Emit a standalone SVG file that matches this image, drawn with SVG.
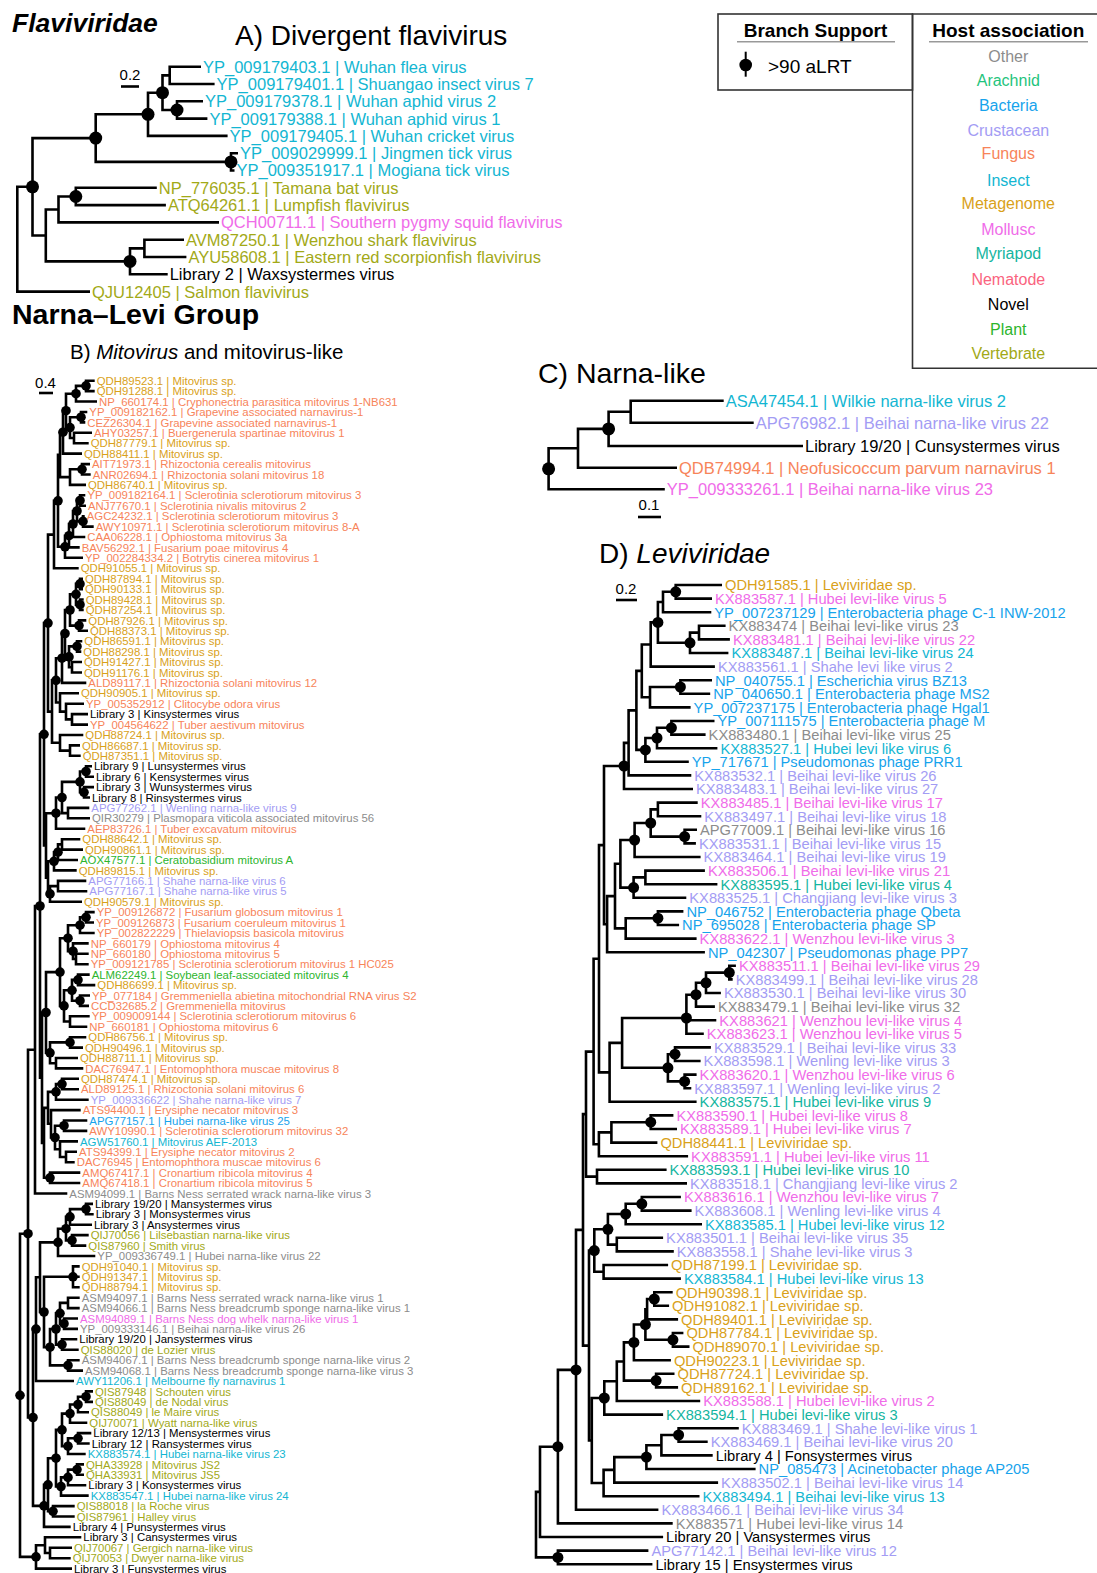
<svg xmlns="http://www.w3.org/2000/svg" xmlns:xlink="http://www.w3.org/1999/xlink" width="1097" height="1573" viewBox="0 0 1097 1573">
<style>
text{font-family:"Liberation Sans",Arial,Helvetica,sans-serif;}
.ta text{font-size:16.5px}
.tb text{font-size:11.4px}
.tc text{font-size:16.5px}
.td text{font-size:14.7px}
.br{fill:none;stroke:#000;stroke-width:2.6;stroke-linejoin:miter}
.bb{fill:none;stroke:#000;stroke-width:2.6}
.oth{fill:#8c8c8c}.ara{fill:#1fc47d}.bac{fill:#17a3ec}.cru{fill:#a39cf4}.fun{fill:#f7845a}.ins{fill:#13b6d2}.met{fill:#d9a11a}.mol{fill:#f06ce9}.myr{fill:#14b5a0}.nem{fill:#fa6480}.nov{fill:#000}.pla{fill:#2db52d}.ver{fill:#a2a917}
.ttl{font-size:28px;fill:#000}
.scale{font-size:15px;fill:#000;text-anchor:middle}
.leg{font-size:16px;text-anchor:middle}
</style>
<defs>
<circle id="dA" r="6.5" fill="#000"/>
<circle id="dB" r="4.8" fill="#000"/>
<circle id="dD" r="5.5" fill="#000"/>
</defs>
<rect width="1097" height="1573" fill="#fff"/>

<!-- titles -->
<g id="titles">
<text x="12" y="32" style="font-size:26.5px;font-weight:bold;font-style:italic">Flaviviridae</text>
<text x="235" y="45" class="ttl">A) Divergent flavivirus</text>
<text x="12" y="324" style="font-size:28.5px;font-weight:bold">Narna–Levi Group</text>
<text x="70" y="359" style="font-size:20.5px">B) <tspan font-style="italic">Mitovirus</tspan> and mitovirus-like</text>
<text x="538" y="383" style="font-size:28.5px">C) Narna-like</text>
<text x="599" y="563" style="font-size:28px">D) <tspan font-style="italic">Leviviridae</tspan></text>
</g>

<!-- legend -->
<g id="legend-support">
<rect x="718" y="14" width="194.5" height="76" fill="none" stroke="#333" stroke-width="1.6"/>
<text x="815.5" y="36.5" style="font-size:19px;font-weight:bold;text-anchor:middle">Branch Support</text>
<path d="M737 41.8 H895" stroke="#999" stroke-width="1.5"/>
<path d="M745.7 51.7 V76.7" stroke="#000" stroke-width="2"/>
<circle cx="745.7" cy="65" r="6.3" fill="#000"/>
<text x="768" y="73.3" style="font-size:19px">&gt;90 aLRT</text>
</g>
<g id="legend-host">
<path d="M1100 14 H912.5 V368.3 H1100" fill="none" stroke="#333" stroke-width="1.6"/>
<text x="1008.3" y="37.3" style="font-size:19px;font-weight:bold;text-anchor:middle">Host association</text>
<path d="M929 41.8 H1088" stroke="#999" stroke-width="1.5"/>
<text x="1008.3" y="61.8" class="leg oth">Other</text>
<text x="1008.3" y="85.8" class="leg ara">Arachnid</text>
<text x="1008.3" y="111.1" class="leg bac">Bacteria</text>
<text x="1008.3" y="135.8" class="leg cru">Crustacean</text>
<text x="1008.3" y="159.1" class="leg fun">Fungus</text>
<text x="1008.3" y="185.8" class="leg ins">Insect</text>
<text x="1008.3" y="209.1" class="leg met">Metagenome</text>
<text x="1008.3" y="235.1" class="leg mol">Mollusc</text>
<text x="1008.3" y="258.5" class="leg myr">Myriapod</text>
<text x="1008.3" y="284.5" class="leg nem">Nematode</text>
<text x="1008.3" y="309.8" class="leg nov">Novel</text>
<text x="1008.3" y="334.5" class="leg pla">Plant</text>
<text x="1008.3" y="359.1" class="leg ver">Vertebrate</text>
</g>

<!-- scale bars -->
<g id="scales">
<text x="130" y="80" class="scale">0.2</text><path d="M121 86.5 H139" class="bb"/>
<text x="45.5" y="388" class="scale">0.4</text><path d="M39 393 H53" class="bb"/>
<text x="649" y="510" class="scale">0.1</text><path d="M638 517 H661" class="bb"/>
<text x="626" y="594" class="scale">0.2</text><path d="M616 600 H637" class="bb"/>
</g>

<g id="connectors">
<!-- Panel A -->
<path class="br" d="M201 66.7 H169.7 V84 H214.6 M203 101.3 H177 V118.6 H207.4 M169.7 75.4 H162.5 V110 H177 M162.5 92.7 H148 V135.9 H227.6 M238 153.2 H231 V170.5 H234.5 M148 114.3 H95.7 V161.9 H231 M156.8 187.8 H75.8 V205.1 H165.9 M75.8 196.5 H58.5 V222.4 H219 M184 239.7 H144.4 V257 H186.4 M144.4 248.4 H130 V274.3 H167.7 M58.5 209.5 H45.8 V261.4 H130 M95.7 138.1 H32.5 V235.5 H45.8 M32.5 186.8 H17.3 V291.6 H90"/>
<!-- Panel C -->
<path class="br" d="M723.7 400.7 H630.7 V422.7 H753.7 M630.7 411.7 H608.6 V446 H803 M608.6 428.9 H578 V467.7 H677 M578 448.3 H548.6 V489.3 H664.8"/>
<!-- Panel B -->
<path class="br" d="M94.7 380.7 H86 V391.1 H94.7 M86 385.9 H76 V401.5 H97 M87.3 412 H81 V422.4 H85.3 M92 432.8 H74 V443.2 H88.7 M81 417.2 H70 V438 H74 M76 393.7 H66 V427.6 H70 M66 410.7 H63 V453.6 H82 M90 464.1 H82 V474.5 H90.7 M82 469.3 H70 V484.9 H86 M63 432.2 H60 V477.1 H70 M85.3 495.3 H80 V505.7 H86 M84.7 516.2 H83 V526.6 H93.7 M80 500.5 H77 V521.4 H83 M77 511 H73 V537 H85.3 M73 524 H69 V547.4 H79.7 M69 535.7 H65 V557.8 H83 M60 454.7 H58 V546.8 H65 M58 500.8 H54 V568.3 H78.7"/>
<path class="br" d="M83 578.7 H80 V589.1 H83 M83.7 599.5 H80 V609.9 H83.7 M80 583.9 H76 V604.7 H80 M86.3 620.4 H79 V630.8 H88 M76 594.3 H70 V625.6 H79 M82.3 641.2 H77 V651.6 H81.3 M82 662 H72 V672.5 H82 M77 646.4 H69 V667.3 H72 M70 610 H65 V656.9 H69 M65 633.5 H62 V682.9 H86.3 M88 714.1 H72 V724.6 H88 M84 703.7 H66 V719.4 H72 M79 693.3 H60 V711.6 H66 M62 658.2 H56 V702.5 H60 M80 745.4 H70 V755.8 H80.7 M83.3 735 H60 V750.6 H70 M56 680.4 H52 V742.8 H60 M54 534.6 H48 V711.6 H52"/>
<path class="br" d="M92 766.2 H86 V776.7 H94 M94 787.1 H84 V797.5 H90 M86 771.5 H80 V792.3 H84 M89.3 807.9 H68 V818.3 H90 M80 781.9 H62 V813.1 H68 M62 797.5 H56 V828.8 H85.3 M80.3 839.2 H62 V849.6 H83 M62 844.4 H58 V860 H78 M58 852.2 H54 V870.4 H76.7 M86.3 880.9 H58 V891.3 H87.3 M58 886.1 H50 V901.7 H82 M54 861.3 H48 V893.9 H50 M56 813.2 H46 V877.6 H48 M48 623.1 H44 V845.4 H46"/>
<path class="br" d="M94.7 912.1 H86 V922.5 H94 M86 917.3 H80 V933 H94.7 M88.7 953.8 H76 V964.2 H88.7 M88.7 943.4 H73 V959 H76 M80 925.2 H68 V951.2 H73 M89.7 974.6 H78 V985.1 H95.3 M90 995.5 H80 V1005.9 H89 M78 979.9 H72 V1000.7 H80 M89.7 1016.3 H70 V1026.7 H87.3 M72 990.3 H64 V1021.5 H70 M68 938.2 H60 V1005.9 H64 M86.3 1037.2 H70 V1047.6 H83 M78 1058 H56 V1068.4 H83.3 M70 1042.4 H50 V1063.2 H56 M60 972.1 H46 V1052.8 H50 M79 1078.8 H62 V1089.3 H79 M62 1084.1 H56 V1099.7 H88.7 M87.3 1120.5 H64 V1130.9 H87.3 M77 1151.8 H66 V1162.2 H74.7 M78 1141.4 H60 V1157 H66 M64 1125.7 H55 V1149.2 H60 M80.7 1110.1 H51 V1137.5 H55 M56 1091.9 H48 V1123.8 H51 M80.3 1172.6 H50 V1183 H80.3 M48 1107.9 H44 V1177.8 H50 M46 1012.5 H42 V1142.9 H44 M44 734.3 H40 V1077.7 H42 M40 906 H35 V1193.5 H67.3"/>
<path class="br" d="M93 1203.9 H86 V1214.3 H93.7 M86 1209.1 H70 V1224.7 H92 M88.7 1235.1 H72 V1245.6 H86.3 M70 1216.9 H66 V1240.4 H72 M66 1228.7 H58 V1256 H95.3 M79.7 1266.4 H73 V1287.2 H79.7 M73 1276.8 H79.7 M79.7 1297.7 H68 V1308.1 H79.7 M78 1318.5 H64 V1328.9 H78 M68 1302.9 H60 V1323.7 H64 M77.3 1339.3 H62 V1349.8 H78.7 M60 1313.3 H56 V1344.6 H62 M79.7 1360.2 H68 V1370.6 H83 M56 1329 H50 V1365.4 H68 M73 1276.8 H44 V1347.2 H50 M58 1242.4 H40 V1312 H44 M40 1277.2 H36 V1381 H74"/>
<path class="br" d="M93 1391.4 H86 V1401.9 H93 M86 1396.7 H78 V1412.3 H89 M78 1404.5 H70 V1422.7 H87.3 M91.3 1433.1 H78 V1443.5 H89.7 M78 1438.3 H68 V1454 H85.7 M70 1413.6 H62 V1446.2 H68 M84 1464.4 H77 V1474.8 H84 M77 1469.6 H68 V1485.2 H86.3 M68 1477.4 H61 V1495.6 H88.7 M62 1429.9 H56 V1486.5 H61 M74.7 1506.1 H53 V1516.5 H74.7 M56 1458.2 H48 V1511.3 H53 M48 1484.8 H44 V1526.9 H70.7 M36 1329.1 H33 V1505.9 H44 M35 1049.8 H28 V1417.5 H33 M72 1547.7 H50 V1558.2 H70.7 M81.3 1537.3 H45 V1553 H50 M45 1545.2 H36 V1568.6 H72 M28 1233.7 H20 V1556.9 H36"/>
<!-- Panel D -->
<path class="br" d="M722 585 H675.7 V598.6 H712 M675.7 591.8 H663 V612.2 H711.3 M725.6 625.8 H699 V639.4 H729.9 M699 632.6 H690 V653 H728.4 M663 602 H657.9 V642.8 H690 M657.9 622.4 H650.7 V666.6 H714.9 M712 680.2 H680.4 V693.8 H710.2 M680.4 687 H650 V707.4 H690.6 M650.7 644.5 H641.8 V697.2 H650 M714.5 721 H671.4 V734.6 H705.6 M671.4 727.8 H657 V748.2 H717.4 M657 738 H645.4 V761.8 H688.8 M641.8 670.9 H636.4 V749.9 H645.4 M636.4 710.4 H628.6 V775.4 H691.3 M628.6 742.9 H624 V789 H693"/>
<path class="br" d="M697.7 802.6 H657.9 V816.2 H701.3 M697 829.8 H684.6 V843.4 H695.9 M657.9 809.4 H650.7 V836.6 H684.6 M650.7 823 H634.6 V857 H700.6 M704.9 870.6 H645.4 V884.2 H717.4 M645.4 877.4 H633.6 V897.8 H686.3 M634.6 840 H620.4 V887.6 H633.6 M683.4 911.4 H657.9 V925 H679.1 M657.9 918.2 H625.7 V938.6 H696.6 M620.4 863.8 H615 V928.4 H625.7 M615 896.1 H607.1 V952.2 H704.9 M624 766 H604 V924.2 H607.1"/>
<path class="br" d="M735.9 965.8 H729.3 V979.4 H732.7 M729.3 972.6 H706 V993 H720.9 M706 982.8 H696 V1006.6 H714.9 M696 994.7 H686.4 V1033.8 H703.8 M686.4 1020.2 H716.3 M710.9 1047.4 H675 V1061 H700.6 M696.6 1074.6 H684.6 V1088.2 H691.3 M675 1054.2 H667.9 V1081.4 H684.6 M686.4 1018 H622.1 V1067.8 H667.9 M622.1 1042.9 H609.6 V1101.8 H696.6 M604 845.1 H599 V1072.4 H609.6 M673.4 1115.4 H650.7 V1129 H677 M650.7 1122.2 H611.4 V1142.6 H657.4 M611.4 1132.4 H598.9 V1156.2 H688.1 M599 958.8 H593.6 V1144.3 H598.9 M666.6 1169.8 H597 V1183.4 H687 M593.6 1051.6 H586 V1176.6 H597"/>
<path class="br" d="M680.9 1197 H641.8 V1210.6 H691.6 M641.8 1203.8 H625.7 V1224.2 H702 M663.1 1237.8 H616.8 V1251.4 H673.8 M625.7 1214 H607.9 V1244.6 H616.8 M668.1 1265 H603.6 V1278.6 H680.9 M607.9 1229.3 H594.3 V1271.8 H603.6 M672.7 1292.2 H654.3 V1305.8 H669.1 M654.3 1299 H647.1 V1319.4 H678.1 M683.4 1333 H672.9 V1346.6 H689.5 M647.1 1309.2 H645.4 V1339.8 H672.9 M645.4 1324.5 H633.9 V1360.2 H670.9 M674.5 1373.8 H656.1 V1387.4 H678.1 M633.9 1342.4 H623.9 V1380.6 H656.1 M623.9 1361.5 H616.8 V1401 H700.2 M616.8 1381.3 H604.3 V1414.6 H663.1 M738.8 1428.2 H678.6 V1441.8 H707.7 M678.6 1435 H661.4 V1455.4 H712.7 M661.4 1445.2 H646.4 V1469 H755.6 M646.4 1457.1 H614.3 V1482.6 H718.1 M614.3 1469.9 H603.6 V1496.2 H699.5 M604.3 1398 H591.8 V1483 H603.6 M594.3 1250.6 H589 V1440.5 H591.8 M586 1114.1 H583 V1345.6 H589 M583 1229.9 H576 V1509.8 H658.4 M576 1369.9 H557.9 V1523.4 H672.7 M557.9 1446.7 H540 V1537 H663.1 M648.4 1550.6 H557.9 V1564.2 H652.4 M540 1491.9 H536 V1557.4 H557.9"/>
</g>

<g id="support">
<use href="#dA" x="177" y="110"/><use href="#dA" x="162.5" y="92.7"/><use href="#dA" x="148" y="114.3"/><use href="#dA" x="231" y="161.9"/><use href="#dA" x="95.7" y="138.1"/><use href="#dA" x="75.8" y="196.5"/><use href="#dA" x="130" y="261.4"/><use href="#dA" x="32.5" y="186.8"/>
<use href="#dA" x="608.6" y="428.9"/><use href="#dA" x="548.6" y="468.8"/>
<use href="#dB" x="86" y="385.9"/><use href="#dB" x="76" y="393.7"/><use href="#dB" x="81" y="417.2"/><use href="#dB" x="70" y="427.6"/><use href="#dB" x="66" y="410.7"/><use href="#dB" x="63" y="432.2"/><use href="#dB" x="82" y="469.3"/><use href="#dB" x="80" y="500.5"/><use href="#dB" x="83" y="521.4"/><use href="#dB" x="77" y="511"/><use href="#dB" x="73" y="524"/><use href="#dB" x="69" y="535.7"/><use href="#dB" x="65" y="546.8"/><use href="#dB" x="58" y="500.8"/>
<use href="#dB" x="80" y="583.9"/><use href="#dB" x="80" y="604.7"/><use href="#dB" x="76" y="594.3"/><use href="#dB" x="79" y="625.6"/><use href="#dB" x="70" y="610"/><use href="#dB" x="77" y="646.4"/><use href="#dB" x="69" y="656.9"/><use href="#dB" x="65" y="633.5"/><use href="#dB" x="62" y="658.2"/><use href="#dB" x="56" y="680.4"/><use href="#dB" x="48" y="623.1"/>
<use href="#dB" x="86" y="771.5"/><use href="#dB" x="84" y="792.3"/><use href="#dB" x="80" y="781.9"/><use href="#dB" x="62" y="797.5"/><use href="#dB" x="56" y="813.2"/><use href="#dB" x="58" y="852.2"/><use href="#dB" x="54" y="861.3"/><use href="#dB" x="50" y="893.9"/><use href="#dB" x="44" y="734.3"/>
<use href="#dB" x="86" y="917.3"/><use href="#dB" x="80" y="925.2"/><use href="#dB" x="73" y="951.2"/><use href="#dB" x="68" y="938.2"/><use href="#dB" x="78" y="979.9"/><use href="#dB" x="80" y="1000.7"/><use href="#dB" x="72" y="990.3"/><use href="#dB" x="64" y="1005.9"/><use href="#dB" x="60" y="972.1"/><use href="#dB" x="70" y="1042.4"/><use href="#dB" x="50" y="1052.8"/><use href="#dB" x="46" y="1012.5"/><use href="#dB" x="62" y="1084.1"/><use href="#dB" x="56" y="1091.9"/><use href="#dB" x="64" y="1125.7"/><use href="#dB" x="55" y="1137.5"/><use href="#dB" x="50" y="1177.8"/><use href="#dB" x="40" y="906"/>
<use href="#dB" x="86" y="1209.1"/><use href="#dB" x="70" y="1216.9"/><use href="#dB" x="72" y="1240.4"/><use href="#dB" x="66" y="1228.7"/><use href="#dB" x="58" y="1242.4"/><use href="#dB" x="73" y="1276.8"/><use href="#dB" x="64" y="1323.7"/><use href="#dB" x="60" y="1313.3"/><use href="#dB" x="62" y="1344.6"/><use href="#dB" x="56" y="1329"/><use href="#dB" x="68" y="1365.4"/><use href="#dB" x="50" y="1347.2"/><use href="#dB" x="44" y="1312"/><use href="#dB" x="36" y="1329.1"/>
<use href="#dB" x="86" y="1396.7"/><use href="#dB" x="78" y="1404.5"/><use href="#dB" x="70" y="1413.6"/><use href="#dB" x="78" y="1438.3"/><use href="#dB" x="68" y="1446.2"/><use href="#dB" x="62" y="1429.9"/><use href="#dB" x="77" y="1469.6"/><use href="#dB" x="68" y="1477.4"/><use href="#dB" x="61" y="1486.5"/><use href="#dB" x="56" y="1458.2"/><use href="#dB" x="53" y="1511.3"/><use href="#dB" x="48" y="1484.8"/><use href="#dB" x="44" y="1505.9"/><use href="#dB" x="33" y="1417.5"/><use href="#dB" x="28" y="1233.7"/><use href="#dB" x="36" y="1556.9"/><use href="#dB" x="20" y="1395.3"/>
<use href="#dD" x="675.7" y="591.8"/><use href="#dD" x="657.9" y="622.4"/><use href="#dD" x="690" y="642.8"/><use href="#dD" x="680.4" y="687"/><use href="#dD" x="671.4" y="727.8"/><use href="#dD" x="657" y="738"/><use href="#dD" x="645.4" y="749.9"/><use href="#dD" x="624" y="766"/><use href="#dD" x="684.6" y="836.6"/><use href="#dD" x="650.7" y="823"/><use href="#dD" x="634.6" y="840"/><use href="#dD" x="633.6" y="887.6"/><use href="#dD" x="657.9" y="918.2"/><use href="#dD" x="729.3" y="972.6"/><use href="#dD" x="706" y="982.8"/><use href="#dD" x="696" y="994.7"/><use href="#dD" x="686.4" y="1018"/><use href="#dD" x="675" y="1054.2"/><use href="#dD" x="684.6" y="1081.4"/><use href="#dD" x="667.9" y="1067.8"/><use href="#dD" x="650.7" y="1122.2"/><use href="#dD" x="641.8" y="1203.8"/><use href="#dD" x="625.7" y="1214"/><use href="#dD" x="607.9" y="1229.3"/><use href="#dD" x="594.3" y="1250.6"/><use href="#dD" x="654.3" y="1299"/><use href="#dD" x="672.9" y="1339.8"/><use href="#dD" x="645.4" y="1324.5"/><use href="#dD" x="633.9" y="1342.4"/><use href="#dD" x="656.1" y="1380.6"/><use href="#dD" x="604.3" y="1398"/><use href="#dD" x="678.6" y="1435"/><use href="#dD" x="646.4" y="1457.1"/><use href="#dD" x="576" y="1369.9"/><use href="#dD" x="557.9" y="1446.7"/><use href="#dD" x="557.9" y="1557.4"/>
</g>

<g id="panelA" class="ta">
<g id="a1"><text x="203" y="72.6" class="ins">YP_009179403.1 | Wuhan flea virus</text></g>
<g id="a2"><text x="216.6" y="89.9" class="ins">YP_009179401.1 | Shuangao insect virus 7</text></g>
<g id="a3"><text x="205" y="107.2" class="ins">YP_009179378.1 | Wuhan aphid virus 2</text></g>
<g id="a4"><text x="209.4" y="124.5" class="ins">YP_009179388.1 | Wuhan aphid virus 1</text></g>
<g id="a5"><text x="229.6" y="141.8" class="ins">YP_009179405.1 | Wuhan cricket virus</text></g>
<g id="a6"><text x="240" y="159.1" class="ins">YP_009029999.1 | Jingmen tick virus</text></g>
<g id="a7"><text x="236.5" y="176.4" class="ins">YP_009351917.1 | Mogiana tick virus</text></g>
<g id="a8"><text x="158.8" y="193.7" class="ver">NP_776035.1 | Tamana bat virus</text></g>
<g id="a9"><text x="167.9" y="211" class="ver">ATQ64261.1 | Lumpfish flavivirus</text></g>
<g id="a10"><text x="221" y="228.3" class="mol">QCH00711.1 | Southern pygmy squid flavivirus</text></g>
<g id="a11"><text x="186" y="245.6" class="ver">AVM87250.1 | Wenzhou shark flavivirus</text></g>
<g id="a12"><text x="188.4" y="262.9" class="ver">AYU58608.1 | Eastern red scorpionfish flavivirus</text></g>
<g id="a13"><text x="169.7" y="280.2" class="nov">Library 2 | Waxsystermes virus</text></g>
<g id="a14"><text x="92" y="297.5" class="ver">QJU12405 | Salmon flavivirus</text></g>
</g>

<g id="panelC" class="tc">
<g id="c1"><text x="725.7" y="406.6" class="ins">ASA47454.1 | Wilkie narna-like virus 2</text></g>
<g id="c2"><text x="755.7" y="428.6" class="cru">APG76982.1 | Beihai narna-like virus 22</text></g>
<g id="c3"><text x="805" y="451.9" class="nov">Library 19/20 | Cunsystermes virus</text></g>
<g id="c4"><text x="679" y="473.6" class="fun">QDB74994.1 | Neofusicoccum parvum narnavirus 1</text></g>
<g id="c5"><text x="666.8" y="495.2" class="mol">YP_009333261.1 | Beihai narna-like virus 23</text></g>
</g>

<g id="panelB" class="tb">
<g id="b1"><text x="96.7" y="384.8" class="met">QDH89523.1 | Mitovirus sp.</text></g>
<g id="b2"><text x="96.7" y="395.2" class="met">QDH91288.1 | Mitovirus sp.</text></g>
<g id="b3"><text x="99" y="405.6" class="fun">NP_660174.1 | Cryphonectria parasitica mitovirus 1-NB631</text></g>
<g id="b4"><text x="89.3" y="416.1" class="fun">YP_009182162.1 | Grapevine associated narnavirus-1</text></g>
<g id="b5"><text x="87.3" y="426.5" class="fun">CEZ26304.1 | Grapevine associated narnavirus-1</text></g>
<g id="b6"><text x="94" y="436.9" class="fun">AHY03257.1 | Buergenerula spartinae mitovirus 1</text></g>
<g id="b7"><text x="90.7" y="447.3" class="met">QDH87779.1 | Mitovirus sp.</text></g>
<g id="b8"><text x="84" y="457.7" class="met">QDH88411.1 | Mitovirus sp.</text></g>
<g id="b9"><text x="92" y="468.2" class="fun">AIT71973.1 | Rhizoctonia cerealis mitovirus</text></g>
<g id="b10"><text x="92.7" y="478.6" class="fun">ANR02694.1 | Rhizoctonia solani mitovirus 18</text></g>
<g id="b11"><text x="88" y="489" class="met">QDH86740.1 | Mitovirus sp.</text></g>
<g id="b12"><text x="87.3" y="499.4" class="fun">YP_009182164.1 | Sclerotinia sclerotiorum mitovirus 3</text></g>
<g id="b13"><text x="88" y="509.8" class="fun">ANJ77670.1 | Sclerotinia nivalis mitovirus 2</text></g>
<g id="b14"><text x="86.7" y="520.3" class="fun">AGC24232.1 | Sclerotinia sclerotiorum mitovirus 3</text></g>
<g id="b15"><text x="95.7" y="530.7" class="fun">AWY10971.1 | Sclerotinia sclerotiorum mitovirus 8-A</text></g>
<g id="b16"><text x="87.3" y="541.1" class="fun">CAA06228.1 | Ophiostoma mitovirus 3a</text></g>
<g id="b17"><text x="81.7" y="551.5" class="fun">BAV56292.1 | Fusarium poae mitovirus 4</text></g>
<g id="b18"><text x="85" y="561.9" class="fun">YP_002284334.2 | Botrytis cinerea mitovirus 1</text></g>
<g id="b19"><text x="80.7" y="572.4" class="met">QDH91055.1 | Mitovirus sp.</text></g>
<g id="b20"><text x="85" y="582.8" class="met">QDH87894.1 | Mitovirus sp.</text></g>
<g id="b21"><text x="85" y="593.2" class="met">QDH90133.1 | Mitovirus sp.</text></g>
<g id="b22"><text x="85.7" y="603.6" class="met">QDH89428.1 | Mitovirus sp.</text></g>
<g id="b23"><text x="85.7" y="614" class="met">QDH87254.1 | Mitovirus sp.</text></g>
<g id="b24"><text x="88.3" y="624.5" class="met">QDH87926.1 | Mitovirus sp.</text></g>
<g id="b25"><text x="90" y="634.9" class="met">QDH88373.1 | Mitovirus sp.</text></g>
<g id="b26"><text x="84.3" y="645.3" class="met">QDH86591.1 | Mitovirus sp.</text></g>
<g id="b27"><text x="83.3" y="655.7" class="met">QDH88298.1 | Mitovirus sp.</text></g>
<g id="b28"><text x="84" y="666.1" class="met">QDH91427.1 | Mitovirus sp.</text></g>
<g id="b29"><text x="84" y="676.6" class="met">QDH91176.1 | Mitovirus sp.</text></g>
<g id="b30"><text x="88.3" y="687" class="fun">ALD89117.1 | Rhizoctonia solani mitovirus 12</text></g>
<g id="b31"><text x="81" y="697.4" class="met">QDH90905.1 | Mitovirus sp.</text></g>
<g id="b32"><text x="86" y="707.8" class="fun">YP_005352912 | Clitocybe odora virus</text></g>
<g id="b33"><text x="90" y="718.2" class="nov">Library 3 | Kinsystermes virus</text></g>
<g id="b34"><text x="90" y="728.7" class="fun">YP_004564622 | Tuber aestivum mitovirus</text></g>
<g id="b35"><text x="85.3" y="739.1" class="met">QDH88724.1 | Mitovirus sp.</text></g>
<g id="b36"><text x="82" y="749.5" class="met">QDH86687.1 | Mitovirus sp.</text></g>
<g id="b37"><text x="82.7" y="759.9" class="met">QDH87351.1 | Mitovirus sp.</text></g>
<g id="b38"><text x="94" y="770.3" class="nov">Library 9 | Lunsystermes virus</text></g>
<g id="b39"><text x="96" y="780.8" class="nov">Library 6 | Kensystermes virus</text></g>
<g id="b40"><text x="96" y="791.2" class="nov">Library 3 | Wunsystermes virus</text></g>
<g id="b41"><text x="92" y="801.6" class="nov">Library 8 | Rinsystermes virus</text></g>
<g id="b42"><text x="91.3" y="812" class="cru">APG77262.1 | Wenling narna-like virus 9</text></g>
<g id="b43"><text x="92" y="822.4" class="oth">QIR30279 | Plasmopara viticola associated mitovirus 56</text></g>
<g id="b44"><text x="87.3" y="832.9" class="fun">AEP83726.1 | Tuber excavatum mitovirus</text></g>
<g id="b45"><text x="82.3" y="843.3" class="met">QDH88642.1 | Mitovirus sp.</text></g>
<g id="b46"><text x="85" y="853.7" class="met">QDH90861.1 | Mitovirus sp.</text></g>
<g id="b47"><text x="80" y="864.1" class="pla">AOX47577.1 | Ceratobasidium mitovirus A</text></g>
<g id="b48"><text x="78.7" y="874.5" class="met">QDH89815.1 | Mitovirus sp.</text></g>
<g id="b49"><text x="88.3" y="885" class="cru">APG77166.1 | Shahe narna-like virus 6</text></g>
<g id="b50"><text x="89.3" y="895.4" class="cru">APG77167.1 | Shahe narna-like virus 5</text></g>
<g id="b51"><text x="84" y="905.8" class="met">QDH90579.1 | Mitovirus sp.</text></g>
<g id="b52"><text x="96.7" y="916.2" class="fun">YP_009126872 | Fusarium globosum mitovirus 1</text></g>
<g id="b53"><text x="96" y="926.6" class="fun">YP_009126873 | Fusarium coeruleum mitovirus 1</text></g>
<g id="b54"><text x="96.7" y="937.1" class="fun">YP_002822229 | Thielaviopsis basicola mitovirus</text></g>
<g id="b55"><text x="90.7" y="947.5" class="fun">NP_660179 | Ophiostoma mitovirus 4</text></g>
<g id="b56"><text x="90.7" y="957.9" class="fun">NP_660180 | Ophiostoma mitovirus 5</text></g>
<g id="b57"><text x="90.7" y="968.3" class="fun">YP_009121785 | Sclerotinia sclerotiorum mitovirus 1 HC025</text></g>
<g id="b58"><text x="91.7" y="978.7" class="pla">ALM62249.1 | Soybean leaf-associated mitovirus 4</text></g>
<g id="b59"><text x="97.3" y="989.2" class="met">QDH86699.1 | Mitovirus sp.</text></g>
<g id="b60"><text x="92" y="999.6" class="fun">YP_077184 | Gremmeniella abietina mitochondrial RNA virus S2</text></g>
<g id="b61"><text x="91" y="1010" class="fun">CCD32685.2 | Gremmeniella mitovirus</text></g>
<g id="b62"><text x="91.7" y="1020.4" class="fun">YP_009009144 | Sclerotinia sclerotiorum mitovirus 6</text></g>
<g id="b63"><text x="89.3" y="1030.8" class="fun">NP_660181 | Ophiostoma mitovirus 6</text></g>
<g id="b64"><text x="88.3" y="1041.3" class="met">QDH86756.1 | Mitovirus sp.</text></g>
<g id="b65"><text x="85" y="1051.7" class="met">QDH90496.1 | Mitovirus sp.</text></g>
<g id="b66"><text x="80" y="1062.1" class="met">QDH88711.1 | Mitovirus sp.</text></g>
<g id="b67"><text x="85.3" y="1072.5" class="fun">DAC76947.1 | Entomophthora muscae mitovirus 8</text></g>
<g id="b68"><text x="81" y="1082.9" class="met">QDH87474.1 | Mitovirus sp.</text></g>
<g id="b69"><text x="81" y="1093.4" class="fun">ALD89125.1 | Rhizoctonia solani mitovirus 6</text></g>
<g id="b70"><text x="90.7" y="1103.8" class="cru">YP_009336622 | Shahe narna-like virus 7</text></g>
<g id="b71"><text x="82.7" y="1114.2" class="fun">ATS94400.1 | Erysiphe necator mitovirus 3</text></g>
<g id="b72"><text x="89.3" y="1124.6" class="bac">APG77157.1 | Hubei narna-like virus 25</text></g>
<g id="b73"><text x="89.3" y="1135" class="fun">AWY10990.1 | Sclerotinia sclerotiorum mitovirus 32</text></g>
<g id="b74"><text x="80" y="1145.5" class="ins">AGW51760.1 | Mitovirus AEF-2013</text></g>
<g id="b75"><text x="79" y="1155.9" class="fun">ATS94399.1 | Erysiphe necator mitovirus 2</text></g>
<g id="b76"><text x="76.7" y="1166.3" class="fun">DAC76945 | Entomophthora muscae mitovirus 6</text></g>
<g id="b77"><text x="82.3" y="1176.7" class="fun">AMQ67417.1 | Cronartium ribicola mitovirus 4</text></g>
<g id="b78"><text x="82.3" y="1187.1" class="fun">AMQ67418.1 | Cronartium ribicola mitovirus 5</text></g>
<g id="b79"><text x="69.3" y="1197.6" class="oth">ASM94099.1 | Barns Ness serrated wrack narna-like virus 3</text></g>
<g id="b80"><text x="95" y="1208" class="nov">Library 19/20 | Mansystermes virus</text></g>
<g id="b81"><text x="95.7" y="1218.4" class="nov">Library 3 | Monsystermes virus</text></g>
<g id="b82"><text x="94" y="1228.8" class="nov">Library 3 | Ansystermes virus</text></g>
<g id="b83"><text x="90.7" y="1239.2" class="ver">QIJ70056 | Lilsebastian narna-like virus</text></g>
<g id="b84"><text x="88.3" y="1249.7" class="ver">QIS87960 | Smith virus</text></g>
<g id="b85"><text x="97.3" y="1260.1" class="oth">YP_009336749.1 | Hubei narna-like virus 22</text></g>
<g id="b86"><text x="81.7" y="1270.5" class="met">QDH91040.1 | Mitovirus sp.</text></g>
<g id="b87"><text x="81.7" y="1280.9" class="met">QDH91347.1 | Mitovirus sp.</text></g>
<g id="b88"><text x="81.7" y="1291.3" class="met">QDH88794.1 | Mitovirus sp.</text></g>
<g id="b89"><text x="81.7" y="1301.8" class="oth">ASM94097.1 | Barns Ness serrated wrack narna-like virus 1</text></g>
<g id="b90"><text x="81.7" y="1312.2" class="oth">ASM94066.1 | Barns Ness breadcrumb sponge narna-like virus 1</text></g>
<g id="b91"><text x="80" y="1322.6" class="mol">ASM94089.1 | Barns Ness dog whelk narna-like virus 1</text></g>
<g id="b92"><text x="80" y="1333" class="oth">YP_009333146.1 | Beihai narna-like virus 26</text></g>
<g id="b93"><text x="79.3" y="1343.4" class="nov">Library 19/20 | Jansystermes virus</text></g>
<g id="b94"><text x="80.7" y="1353.9" class="ver">QIS88020 | de Lozier virus</text></g>
<g id="b95"><text x="81.7" y="1364.3" class="oth">ASM94067.1 | Barns Ness breadcrumb sponge narna-like virus 2</text></g>
<g id="b96"><text x="85" y="1374.7" class="oth">ASM94068.1 | Barns Ness breadcrumb sponge narna-like virus 3</text></g>
<g id="b97"><text x="76" y="1385.1" class="ins">AWY11206.1 | Melbourne fly narnavirus 1</text></g>
<g id="b98"><text x="95" y="1395.5" class="ver">QIS87948 | Schouten virus</text></g>
<g id="b99"><text x="95" y="1406" class="ver">QIS88049 | de Nodal virus</text></g>
<g id="b100"><text x="91" y="1416.4" class="ver">QIS88049 | le Maire virus</text></g>
<g id="b101"><text x="89.3" y="1426.8" class="ver">QIJ70071 | Wyatt narna-like virus</text></g>
<g id="b102"><text x="93.3" y="1437.2" class="nov">Library 12/13 | Mensystermes virus</text></g>
<g id="b103"><text x="91.7" y="1447.6" class="nov">Library 12 | Ransystermes virus</text></g>
<g id="b104"><text x="87.7" y="1458.1" class="ins">KX883574.1 | Hubei narna-like virus 23</text></g>
<g id="b105"><text x="86" y="1468.5" class="ver">QHA33928 | Mitovirus JS2</text></g>
<g id="b106"><text x="86" y="1478.9" class="ver">QHA33931 | Mitovirus JS5</text></g>
<g id="b107"><text x="88.3" y="1489.3" class="nov">Library 3 | Konsystermes virus</text></g>
<g id="b108"><text x="90.7" y="1499.7" class="ins">KX883547.1 | Hubei narna-like virus 24</text></g>
<g id="b109"><text x="76.7" y="1510.2" class="ver">QIS88018 | la Roche virus</text></g>
<g id="b110"><text x="76.7" y="1520.6" class="ver">QIS87961 | Halley virus</text></g>
<g id="b111"><text x="72.7" y="1531" class="nov">Library 4 | Punsystermes virus</text></g>
<g id="b112"><text x="83.3" y="1541.4" class="nov">Library 3 | Cansystermes virus</text></g>
<g id="b113"><text x="74" y="1551.8" class="ver">QIJ70067 | Gergich narna-like virus</text></g>
<g id="b114"><text x="72.7" y="1562.3" class="ver">QIJ70053 | Dwyer narna-like virus</text></g>
<g id="b115"><text x="74" y="1572.7" class="nov">Library 3 | Funsystermes virus</text></g>
</g>

<g id="panelD" class="td">
<g id="d1"><text x="725" y="590.3" class="met">QDH91585.1 | Leviviridae sp.</text></g>
<g id="d2"><text x="715" y="603.9" class="mol">KX883587.1 | Hubei levi-like virus 5</text></g>
<g id="d3"><text x="714.3" y="617.5" class="bac">YP_007237129 | Enterobacteria phage C-1 INW-2012</text></g>
<g id="d4"><text x="728.6" y="631.1" class="oth">KX883474 | Beihai levi-like virus 23</text></g>
<g id="d5"><text x="732.9" y="644.7" class="mol">KX883481.1 | Beihai levi-like virus 22</text></g>
<g id="d6"><text x="731.4" y="658.3" class="ins">KX883487.1 | Beihai levi-like virus 24</text></g>
<g id="d7"><text x="717.9" y="671.9" class="cru">KX883561.1 | Shahe levi like virus 2</text></g>
<g id="d8"><text x="715" y="685.5" class="bac">NP_040755.1 | Escherichia virus BZ13</text></g>
<g id="d9"><text x="713.2" y="699.1" class="bac">NP_040650.1 | Enterobacteria phage MS2</text></g>
<g id="d10"><text x="693.6" y="712.7" class="bac">YP_007237175 | Enterobacteria phage Hgal1</text></g>
<g id="d11"><text x="717.5" y="726.3" class="bac">YP_007111575 | Enterobacteria phage M</text></g>
<g id="d12"><text x="708.6" y="739.9" class="oth">KX883480.1 | Beihai levi-like virus 25</text></g>
<g id="d13"><text x="720.4" y="753.5" class="ins">KX883527.1 | Hubei levi like virus 6</text></g>
<g id="d14"><text x="691.8" y="767.1" class="bac">YP_717671 | Pseudomonas phage PRR1</text></g>
<g id="d15"><text x="694.3" y="780.7" class="cru">KX883532.1 | Beihai levi-like virus 26</text></g>
<g id="d16"><text x="696" y="794.3" class="cru">KX883483.1 | Beihai levi-like virus 27</text></g>
<g id="d17"><text x="700.7" y="807.9" class="mol">KX883485.1 | Beihai levi-like virus 17</text></g>
<g id="d18"><text x="704.3" y="821.5" class="cru">KX883497.1 | Beihai levi-like virus 18</text></g>
<g id="d19"><text x="700" y="835.1" class="oth">APG77009.1 | Beihai levi-like virus 16</text></g>
<g id="d20"><text x="698.9" y="848.7" class="cru">KX883531.1 | Beihai levi-like virus 15</text></g>
<g id="d21"><text x="703.6" y="862.3" class="cru">KX883464.1 | Beihai levi-like virus 19</text></g>
<g id="d22"><text x="707.9" y="875.9" class="mol">KX883506.1 | Beihai levi-like virus 21</text></g>
<g id="d23"><text x="720.4" y="889.5" class="myr">KX883595.1 | Hubei levi-like virus 4</text></g>
<g id="d24"><text x="689.3" y="903.1" class="cru">KX883525.1 | Changjiang levi-like virus 3</text></g>
<g id="d25"><text x="686.4" y="916.7" class="bac">NP_046752 | Enterobacteria phage Qbeta</text></g>
<g id="d26"><text x="682.1" y="930.3" class="bac">NP_695028 | Enterobacteria phage SP</text></g>
<g id="d27"><text x="699.6" y="943.9" class="mol">KX883622.1 | Wenzhou levi-like virus 3</text></g>
<g id="d28"><text x="707.9" y="957.5" class="bac">NP_042307 | Pseudomonas phage PP7</text></g>
<g id="d29"><text x="738.9" y="971.1" class="mol">KX883511.1 | Beihai levi-like virus 29</text></g>
<g id="d30"><text x="735.7" y="984.7" class="cru">KX883499.1 | Beihai levi-like virus 28</text></g>
<g id="d31"><text x="723.9" y="998.3" class="cru">KX883530.1 | Beihai levi-like virus 30</text></g>
<g id="d32"><text x="717.9" y="1011.9" class="oth">KX883479.1 | Beihai levi-like virus 32</text></g>
<g id="d33"><text x="719.3" y="1025.5" class="mol">KX883621 | Wenzhou levi-like virus 4</text></g>
<g id="d34"><text x="706.8" y="1039.1" class="mol">KX883623.1 | Wenzhou levi-like virus 5</text></g>
<g id="d35"><text x="713.9" y="1052.7" class="cru">KX883529.1 | Beihai levi-like virus 33</text></g>
<g id="d36"><text x="703.6" y="1066.3" class="cru">KX883598.1 | Wenling levi-like virus 3</text></g>
<g id="d37"><text x="699.6" y="1079.9" class="mol">KX883620.1 | Wenzhou levi-like virus 6</text></g>
<g id="d38"><text x="694.3" y="1093.5" class="cru">KX883597.1 | Wenling levi-like virus 2</text></g>
<g id="d39"><text x="699.6" y="1107.1" class="myr">KX883575.1 | Hubei levi-like virus 9</text></g>
<g id="d40"><text x="676.4" y="1120.7" class="mol">KX883590.1 | Hubei levi-like virus 8</text></g>
<g id="d41"><text x="680" y="1134.3" class="mol">KX883589.1 | Hubei levi-like virus 7</text></g>
<g id="d42"><text x="660.4" y="1147.9" class="met">QDH88441.1 | Leviviridae sp.</text></g>
<g id="d43"><text x="691.1" y="1161.5" class="mol">KX883591.1 | Hubei levi-like virus 11</text></g>
<g id="d44"><text x="669.6" y="1175.1" class="myr">KX883593.1 | Hubei levi-like virus 10</text></g>
<g id="d45"><text x="690" y="1188.7" class="cru">KX883518.1 | Changjiang levi-like virus 2</text></g>
<g id="d46"><text x="683.9" y="1202.3" class="mol">KX883616.1 | Wenzhou levi-like virus 7</text></g>
<g id="d47"><text x="694.6" y="1215.9" class="cru">KX883608.1 | Wenling levi-like virus 4</text></g>
<g id="d48"><text x="705" y="1229.5" class="ins">KX883585.1 | Hubei levi-like virus 12</text></g>
<g id="d49"><text x="666.1" y="1243.1" class="cru">KX883501.1 | Beihai levi-like virus 35</text></g>
<g id="d50"><text x="676.8" y="1256.7" class="cru">KX883558.1 | Shahe levi-like virus 3</text></g>
<g id="d51"><text x="671.1" y="1270.3" class="met">QDH87199.1 | Leviviridae sp.</text></g>
<g id="d52"><text x="683.9" y="1283.9" class="ins">KX883584.1 | Hubei levi-like virus 13</text></g>
<g id="d53"><text x="675.7" y="1297.5" class="met">QDH90398.1 | Leviviridae sp.</text></g>
<g id="d54"><text x="672.1" y="1311.1" class="met">QDH91082.1 | Leviviridae sp.</text></g>
<g id="d55"><text x="681.1" y="1324.7" class="met">QDH89401.1 | Leviviridae sp.</text></g>
<g id="d56"><text x="686.4" y="1338.3" class="met">QDH87784.1 | Leviviridae sp.</text></g>
<g id="d57"><text x="692.5" y="1351.9" class="met">QDH89070.1 | Leviviridae sp.</text></g>
<g id="d58"><text x="673.9" y="1365.5" class="met">QDH90223.1 | Leviviridae sp.</text></g>
<g id="d59"><text x="677.5" y="1379.1" class="met">QDH87724.1 | Leviviridae sp.</text></g>
<g id="d60"><text x="681.1" y="1392.7" class="met">QDH89162.1 | Leviviridae sp.</text></g>
<g id="d61"><text x="703.2" y="1406.3" class="mol">KX883588.1 | Hubei levi-like virus 2</text></g>
<g id="d62"><text x="666.1" y="1419.9" class="myr">KX883594.1 | Hubei levi-like virus 3</text></g>
<g id="d63"><text x="741.8" y="1433.5" class="cru">KX883469.1 | Shahe levi-like virus 1</text></g>
<g id="d64"><text x="710.7" y="1447.1" class="cru">KX883469.1 | Beihai levi-like virus 20</text></g>
<g id="d65"><text x="715.7" y="1460.7" class="nov">Library 4 | Fonsystermes virus</text></g>
<g id="d66"><text x="758.6" y="1474.3" class="bac">NP_085473 | Acinetobacter phage AP205</text></g>
<g id="d67"><text x="721.1" y="1487.9" class="cru">KX883502.1 | Beihai levi-like virus 14</text></g>
<g id="d68"><text x="702.5" y="1501.5" class="ins">KX883494.1 | Beihai levi-like virus 13</text></g>
<g id="d69"><text x="661.4" y="1515.1" class="cru">KX883466.1 | Beihai levi-like virus 34</text></g>
<g id="d70"><text x="675.7" y="1528.7" class="oth">KX883571 | Hubei levi-like virus 14</text></g>
<g id="d71"><text x="666.1" y="1542.3" class="nov">Library 20 | Vansystermes virus</text></g>
<g id="d72"><text x="651.4" y="1555.9" class="cru">APG77142.1 | Beihai levi-like virus 12</text></g>
<g id="d73"><text x="655.4" y="1569.5" class="nov">Library 15 | Ensystermes virus</text></g>
</g>
</svg>
